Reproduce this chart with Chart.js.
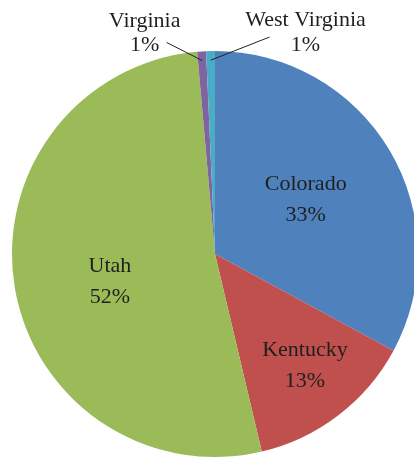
<!DOCTYPE html>
<html>
<head>
<meta charset="utf-8">
<script src="https://cdn.jsdelivr.net/npm/chart.js@4/dist/chart.umd.min.js"></script>
<style>
  html, body { margin: 0; padding: 0; background: #ffffff; }
  #wrap { width: 414px; height: 458px; overflow: hidden; position: relative; }
  canvas { display: block; }
</style>
</head>
<body>
<div id="wrap"><canvas id="pieChart" width="422" height="458"></canvas></div>
<script>
// Datos del gráfico (porcentaje de cada estado)
const categories = ['Colorado', 'Kentucky', 'Utah', 'Virginia', 'West Virginia'];
const shares = [32.9, 13.4, 52.3, 0.7, 0.7];
const sliceColors = ['#4f81bd', '#c0504d', '#9bbb59', '#8064a2', '#4bacc6'];

// Posición de etiquetas: [fracción del radio, desplazamiento de ángulo en grados] o callout
const labelPlacement = [
    { inside: true, r: 0.52, da: 0 },
    { inside: true, r: 0.705, da: -1.5 },
    { inside: true, r: 0.535, da: -5.5 },
    { inside: false, line: [-35, -9], text: [-57, -6] },
    { inside: false, line: [59, -14], text: [95, -6] }
];

const FONT = "22px 'Liberation Serif', 'Times New Roman', serif";
const TEXT_COLOR = '#1f1f1f';

const pieLabels = {
    id: 'pieLabels',
    afterDatasetsDraw(chart) {
        const { ctx } = chart;
        const meta = chart.getDatasetMeta(0);
        const total = shares.reduce((a, b) => a + b, 0);
        ctx.save();
        ctx.font = FONT;
        ctx.fillStyle = TEXT_COLOR;
        ctx.textAlign = 'center';
        ctx.textBaseline = 'middle';
        meta.data.forEach((arc, i) => {
            const p = arc.getProps(['x', 'y', 'startAngle', 'endAngle', 'outerRadius'], true);
            const cfg = labelPlacement[i];
            const pct = Math.round(shares[i] / total * 100) + '%';
            if (cfg.inside) {
                const mid = (p.startAngle + p.endAngle) / 2 + cfg.da * Math.PI / 180;
                const cx = p.x + Math.cos(mid) * p.outerRadius * cfg.r;
                const cy = p.y + Math.sin(mid) * p.outerRadius * cfg.r;
                ctx.fillText(categories[i], cx, cy - 15.5);
                ctx.fillText(pct, cx, cy + 15.5);
            } else {
                const mid = (p.startAngle + p.endAngle) / 2;
                const ex = p.x + Math.cos(mid) * p.outerRadius;
                const ey = p.y + Math.sin(mid) * p.outerRadius;
                const ix = p.x + Math.cos(mid) * p.outerRadius * 0.955;
                const iy = p.y + Math.sin(mid) * p.outerRadius * 0.955;
                // línea guía
                ctx.strokeStyle = '#222222';
                ctx.lineWidth = 1;
                ctx.beginPath();
                ctx.moveTo(ix, iy);
                ctx.lineTo(ex + cfg.line[0], ey + cfg.line[1]);
                ctx.stroke();
                const tx = ex + cfg.text[0];
                const ty = ey + cfg.text[1];
                ctx.fillText(categories[i], tx, ty - 24.5);
                ctx.fillText(pct, tx, ty);
            }
        });
        ctx.restore();
    }
};

new Chart(document.getElementById('pieChart'), {
    type: 'pie',
    data: {
        labels: categories,
        datasets: [{
            data: shares,
            backgroundColor: sliceColors,
            borderWidth: 0
        }]
    },
    options: {
        responsive: false,
        animation: false,
        layout: { padding: { top: 51, bottom: 1, left: 12, right: 4 } },
        plugins: {
            legend: { display: false },
            tooltip: { enabled: false }
        }
    },
    plugins: [pieLabels]
});
</script>
</body>
</html>
